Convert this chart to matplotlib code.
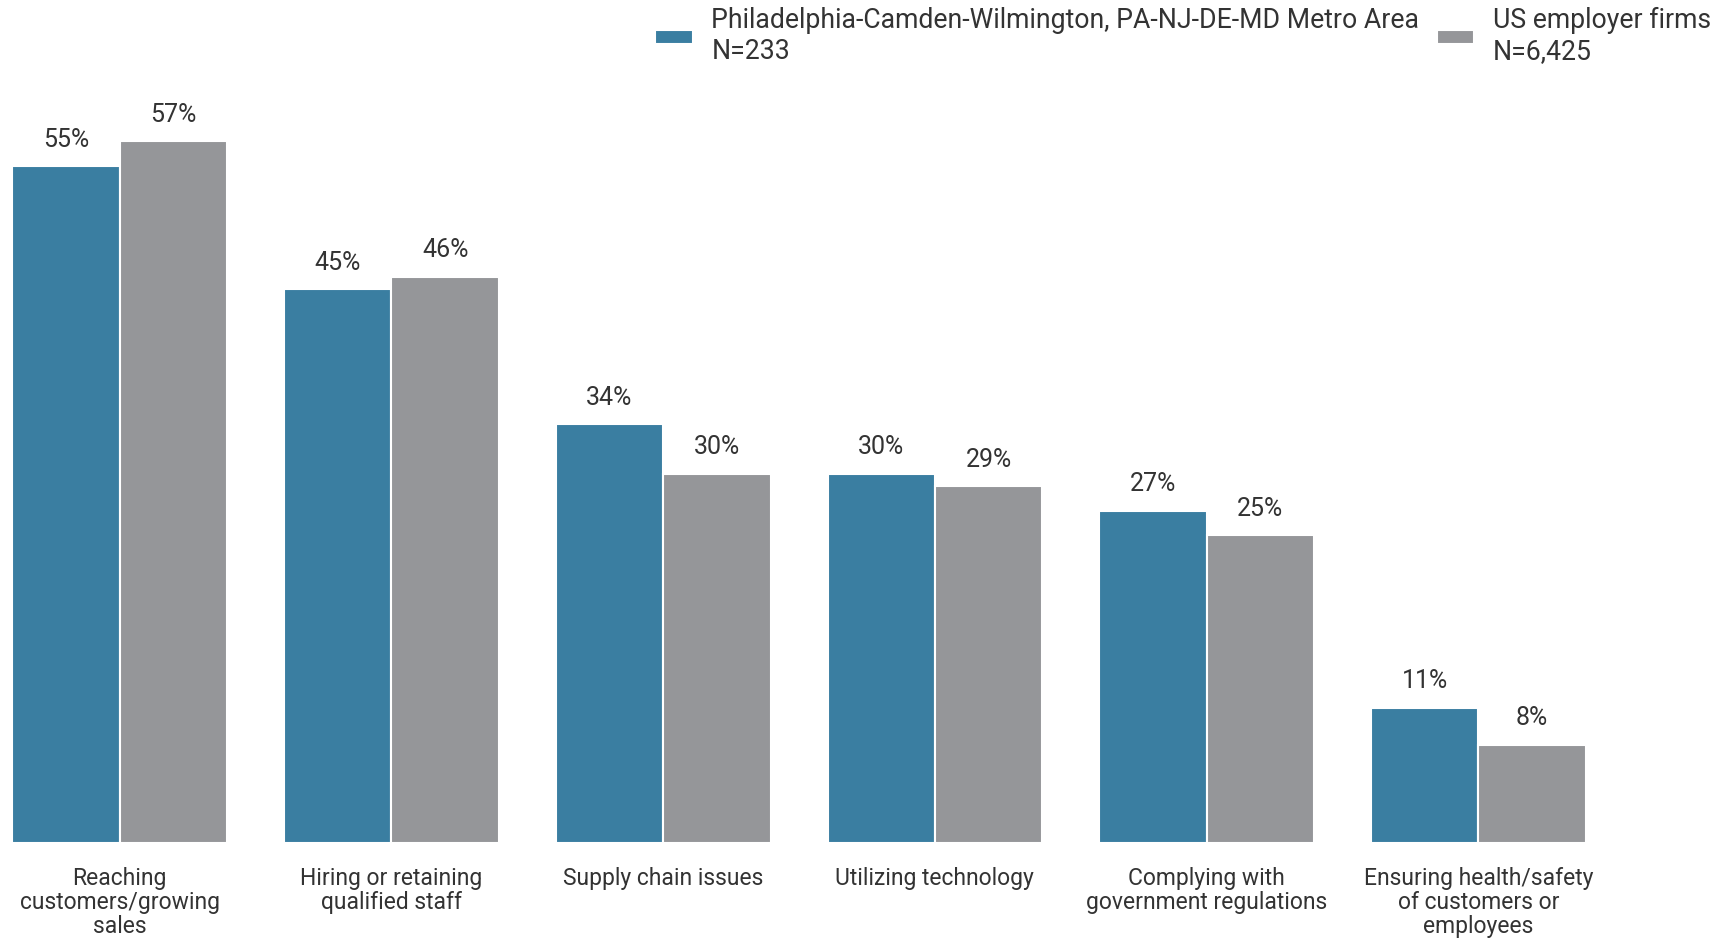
import matplotlib
matplotlib.use("Agg")
import matplotlib.pyplot as plt
import numpy as np

categories = [
    "Reaching\ncustomers/growing\nsales",
    "Hiring or retaining\nqualified staff",
    "Supply chain issues",
    "Utilizing technology",
    "Complying with\ngovernment regulations",
    "Ensuring health/safety\nof customers or\nemployees",
]
series_names = [
    "Philadelphia-Camden-Wilmington, PA-NJ-DE-MD Metro Area\nN=233",
    "US employer firms\nN=6,425",
]
metro_values = [55, 45, 34, 30, 27, 11]
us_values = [57, 46, 30, 29, 25, 8]
colors = ["#3A7EA1", "#959699"]

plt.rcParams["font.family"] = ["Roboto", "DejaVu Sans"]
text_color = "#333333"

W, H = 1724, 940
fig = plt.figure(figsize=(W / 100, H / 100), dpi=100)

# axes geometry in pixels
period = 271.7
x0_px = 119.8
base_px = 843
top_px = 843 - 60 * 12.31
ax = fig.add_axes([0, (H - base_px) / H, 1, (base_px - top_px) / H])
ax.set_xlim(-x0_px / period, (W - x0_px) / period)
ax.set_ylim(0, 60)

x = np.arange(len(categories))
w = 0.395
for vals, off, c, name in [(metro_values, -w / 2, colors[0], series_names[0]),
                           (us_values, w / 2, colors[1], series_names[1])]:
    bars = ax.bar(x + off, vals, width=w, color=c, edgecolor="white",
                  linewidth=1.5, label=name)
    for b, v in zip(bars, vals):
        ax.annotate(f"{v}%", (b.get_x() + b.get_width() / 2, b.get_height()),
                    xytext=(0, 14), textcoords="offset points",
                    ha="center", va="baseline", fontsize=18, color=text_color)

ax.set_xticks(x)
ax.set_xticklabels(categories, fontsize=16.5, color=text_color, linespacing=1.05)
ax.tick_params(axis="x", length=0, pad=17.5)
ax.set_yticks([])
for s in ax.spines.values():
    s.set_visible(False)

fig.legend(loc="upper right", bbox_to_anchor=(1711 / W, 1 - 7 / H), ncol=2,
           frameon=False, fontsize=19.2, handlelength=1.4, handleheight=0.41,
           handletextpad=0.7, columnspacing=0.66, borderpad=0, borderaxespad=0,
           labelcolor=text_color)

fig.savefig("out.png", dpi=100)
